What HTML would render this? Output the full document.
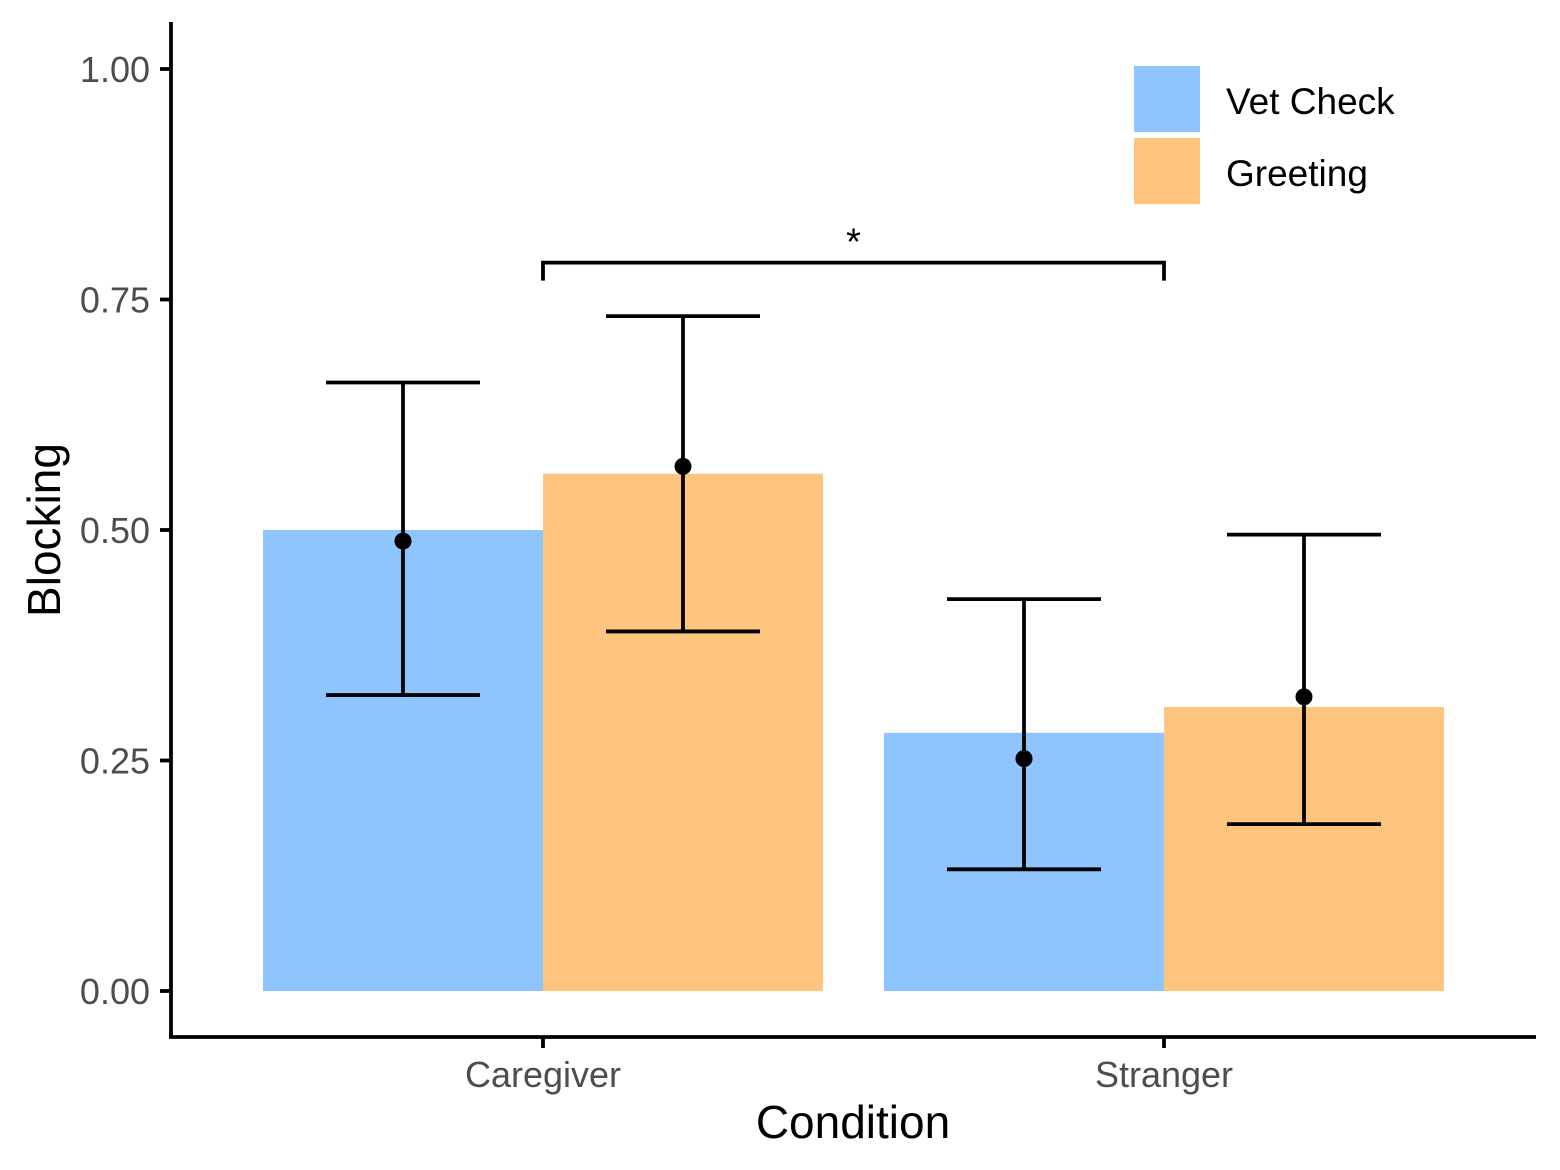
<!DOCTYPE html>
<html><head><meta charset="utf-8"><style>
html,body{margin:0;padding:0;background:#fff;}
svg{display:block;font-family:"Liberation Sans",Arial,sans-serif;}
</style></head><body>
<svg id="chart" width="1560" height="1170" viewBox="0 0 1560 1170" xmlns="http://www.w3.org/2000/svg">
<g id="marks"></g>
<g id="axes"></g>
</svg>
<script>
const categories = ["Caregiver", "Stranger"];
const seriesNames = ["Vet Check", "Greeting"];
const barValues = [[0.50, 0.28], [0.561, 0.308]];
const pointValues = [[0.488, 0.252], [0.569, 0.319]];
const errLow = [[0.321, 0.132], [0.390, 0.181]];
const errHigh = [[0.660, 0.425], [0.732, 0.495]];
const yTicks = [0, 0.25, 0.5, 0.75, 1.0];
const yTickLabels = ["0.00", "0.25", "0.50", "0.75", "1.00"];
const sigLevel = 0.79;
const sigLabel = "*";

const colors = ["#8fc5ff", "#ffc57f"];
const NS = "http://www.w3.org/2000/svg";
const y = v => 991 - v * 922;
const xCenter = i => 543 + i * 621;
const barW = 280;
const capHalf = 77;
const SW = 3.8;

function mk(parent, tag, attrs, text) {
  const el = document.createElementNS(NS, tag);
  for (const k in attrs) el.setAttribute(k, attrs[k]);
  if (text !== undefined) el.textContent = text;
  parent.appendChild(el);
  return el;
}
const marks = document.getElementById("marks");
const axes = document.getElementById("axes");

categories.forEach((c, i) => {
  seriesNames.forEach((s, j) => {
    const x0 = xCenter(i) + (j - 1) * barW;
    const cx = x0 + barW / 2;
    const b = mk(marks, "rect", {x: x0, y: y(barValues[j][i]), width: barW, height: y(0) - y(barValues[j][i]), fill: colors[j]});
    
    
    const g = mk(marks, "g", {stroke: "#000", "stroke-width": SW, fill: "none"});
    
    
    mk(g, "line", {x1: cx, x2: cx, y1: y(errLow[j][i]), y2: y(errHigh[j][i])});
    mk(g, "line", {x1: cx - capHalf, x2: cx + capHalf, y1: y(errLow[j][i]), y2: y(errLow[j][i])});
    mk(g, "line", {x1: cx - capHalf, x2: cx + capHalf, y1: y(errHigh[j][i]), y2: y(errHigh[j][i])});
    const p = mk(marks, "circle", {cx: cx, cy: y(pointValues[j][i]), r: 8.5, fill: "#000"});
    
    
  });
});

const br = mk(marks, "path", {d: `M${xCenter(0)},${y(sigLevel)+18} V${y(sigLevel)} H${xCenter(1)} V${y(sigLevel)+18}`, stroke: "#000", "stroke-width": SW, fill: "none"});


const st = mk(marks, "text", {x: (xCenter(0) + xCenter(1)) / 2, y: y(sigLevel) - 8, "text-anchor": "middle", "font-size": 38, fill: "#000"}, sigLabel);



const yl = mk(axes, "line", {x1: 171, x2: 171, y1: 22, y2: 1038, stroke: "#000", "stroke-width": SW});


const xl = mk(axes, "line", {x1: 169, x2: 1536, y1: 1037, y2: 1037, stroke: "#000", "stroke-width": SW});



yTicks.forEach((t, k) => {
  const tk = mk(axes, "line", {x1: 160, x2: 171, y1: y(t), y2: y(t), stroke: "#000", "stroke-width": SW});
  
  
  const tl = mk(axes, "text", {x: 150, y: y(t) + 13, "text-anchor": "end", "font-size": 36, fill: "#4d4d4d"}, yTickLabels[k]);
  
  
});
categories.forEach((c, i) => {
  const tk = mk(axes, "line", {x1: xCenter(i), x2: xCenter(i), y1: 1037, y2: 1048, stroke: "#000", "stroke-width": SW});
  
  
  const tl = mk(axes, "text", {x: xCenter(i), y: 1087, "text-anchor": "middle", "font-size": 36, fill: "#4d4d4d"}, c);
  
  
});
const xt = mk(axes, "text", {x: 853, y: 1138, "text-anchor": "middle", "font-size": 46, fill: "#000"}, "Condition");


const yt = mk(axes, "text", {x: 0, y: 0, "text-anchor": "middle", "font-size": 46, fill: "#000", transform: "translate(60,530) rotate(-90)"}, "Blocking");



const lg = mk(axes, "g", {});


seriesNames.forEach((s, j) => {
  const e = mk(lg, "g", {});
  
  
  mk(e, "rect", {x: 1134, y: 66 + j * 72, width: 66, height: 66, fill: colors[j]});
  mk(e, "text", {x: 1226, y: 114 + j * 72, "font-size": 37, fill: "#000"}, s);
});
</script>
</body></html>
